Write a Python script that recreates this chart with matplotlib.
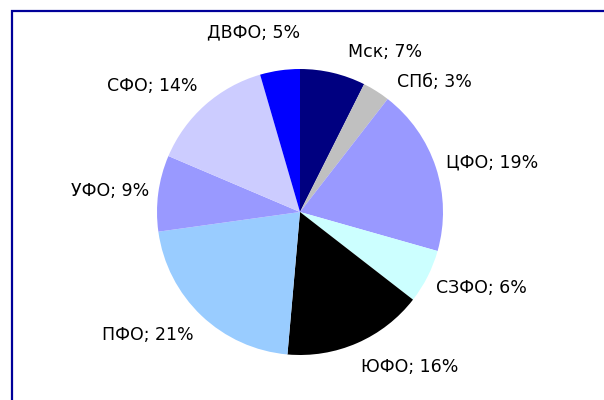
import matplotlib
matplotlib.use("Agg")
import matplotlib.pyplot as plt
from matplotlib.patches import Rectangle

# Data
regions = ["Мск", "СПб", "ЦФО", "СЗФО", "ЮФО", "ПФО", "УФО", "СФО", "ДВФО"]
shares = [7.4, 3.1, 18.9, 6.1, 15.9, 21.4, 8.6, 14.1, 4.5]
pct_labels = ["7%", "3%", "19%", "6%", "16%", "21%", "9%", "14%", "5%"]
colors = ["#000080", "#C0C0C0", "#9999FF", "#CCFFFF", "#000000",
          "#99CCFF", "#9999FF", "#CCCCFF", "#0000FF"]

# Layout: label centres in pie-radius units (styling/placement)
label_pos = [(0.594, 1.119), (0.937, 0.909), (1.343, 0.343), (1.266, -0.531),
             (0.769, -1.085), (-1.063, -0.860), (-1.329, 0.147),
             (-1.035, 0.881), (-0.322, 1.259)]

W, H = 604, 400
fig = plt.figure(figsize=(W / 100, H / 100), dpi=100)
fig.patch.set_facecolor("white")

cx, cy, r = 300, 212, 143
ax = fig.add_axes([(cx - r) / W, (H - cy - r) / H, 2 * r / W, 2 * r / H])
ax.pie(shares, colors=colors, startangle=90, counterclock=False,
       radius=1.0, wedgeprops=dict(linewidth=0))
ax.set_xlim(-1, 1)
ax.set_ylim(-1, 1)
ax.set_aspect("equal")
ax.axis("off")

for name, pct, (x, y) in zip(regions, pct_labels, label_pos):
    ax.text(x, y, f"{name}; {pct}", ha="center", va="center",
            fontsize=12.5, color="black", family="DejaVu Sans", clip_on=False)

# Frame (navy border, left/top visible, extends beyond right/bottom)
fig.patches.append(Rectangle((12 / W, -0.05), 1.2, (H - 11) / H + 0.05,
                             transform=fig.transFigure, fill=False,
                             edgecolor="#000099", linewidth=1.6))

fig.savefig("out.png", dpi=100, facecolor="white")
